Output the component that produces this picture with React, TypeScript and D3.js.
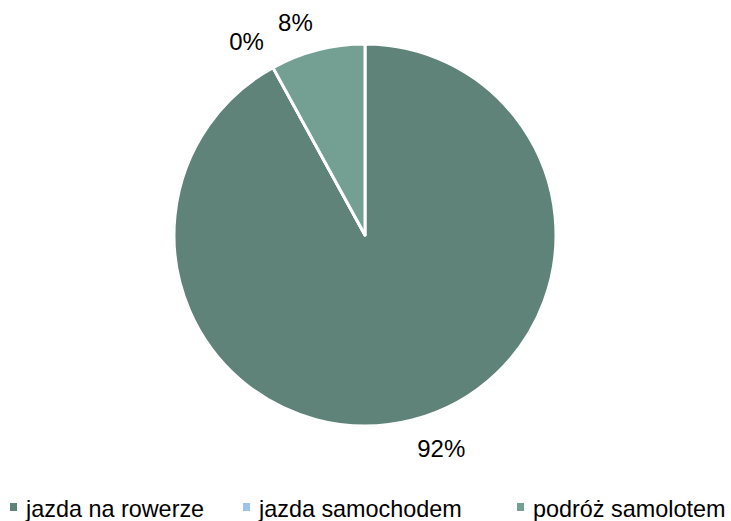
import React from "react";
import * as d3 from "d3";

const categories = ["jazda na rowerze", "jazda samochodem", "podróż samolotem"];
const values = [92, 0, 8];
const labels = ["92%", "0%", "8%"];
const colors = ["#5f8378", "#9dc3e6", "#74a093"];

const W = 731;
const H = 521;

export default function App() {
  const cx = 365;
  const cy = 235;
  const r = 191;

  const pie = d3.pie<number>().sort(null).value((d) => d);
  const arcs = pie(values);
  const arc = d3.arc<d3.PieArcDatum<number>>().innerRadius(0).outerRadius(r);

  // legend positions
  const legendX = [10, 243, 517];
  const legendY = 517;

  return (
    <svg
      width={W}
      height={H}
      style={{ position: "absolute", left: 0, top: 0, fontFamily: "Liberation Sans, Arial, sans-serif" }}
    >
      <g transform={`translate(${cx},${cy})`}>
        {arcs.map((a, i) => (
          <path key={i} d={arc(a) || ""} fill={colors[i]} stroke="#fff" strokeWidth={3} strokeLinejoin="round" />
        ))}
        {arcs.map((a, i) => {
          const mid = (a.startAngle + a.endAngle) / 2;
          const lr = r + 19;
          const x = Math.sin(mid) * lr;
          const y = -Math.cos(mid) * lr;
          const anchor = Math.sin(mid) >= 0 ? "start" : "end";
          const dy = Math.cos(mid) > 0 ? -1 : 18.5;
          return (
            <text key={"l" + i} x={x} y={y + dy} textAnchor={anchor} fontSize={24} fill="#000">
              {labels[i]}
            </text>
          );
        })}
      </g>
      {categories.map((c, i) => (
        <g key={c}>
          <rect x={legendX[i]} y={legendY - 14} width={7} height={8} fill={colors[i]} />
          <text x={legendX[i] + 16} y={legendY} fontSize={23.4} fill="#000">
            {c}
          </text>
        </g>
      ))}
    </svg>
  );
}
